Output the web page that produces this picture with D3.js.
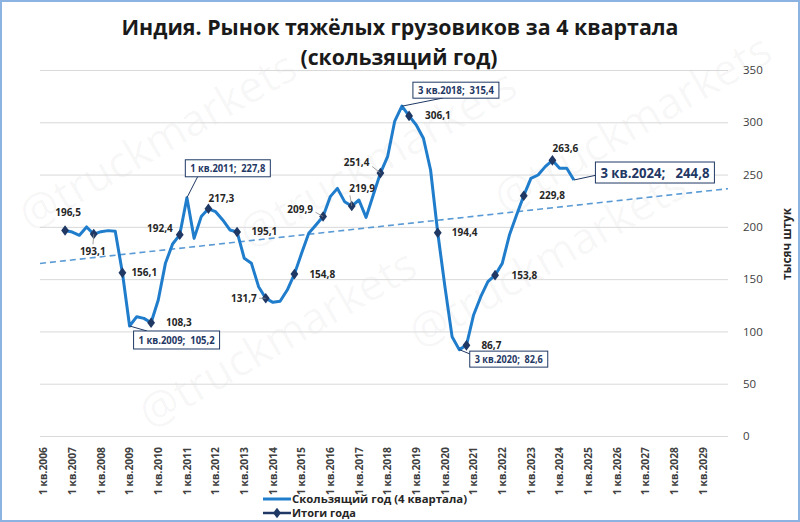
<!DOCTYPE html>
<html><head><meta charset="utf-8">
<script src="https://cdn.jsdelivr.net/npm/d3@7/dist/d3.min.js"></script>
<style>body{margin:0;background:#fff}svg{display:block}</style>
</head><body>
<svg id="c" width="800" height="522"></svg>
<script>
// ---------------- DATA ----------------
const titleLines = ["Индия. Рынок тяжёлых грузовиков за 4 квартала", "(скользящий год)"];
const years = [2006,2007,2008,2009,2010,2011,2012,2013,2014,2015,2016,2017,2018,2019,2020,2021,2022,2023,2024,2025,2026,2027,2028,2029];
const quarterNames = ["1 кв.","2 кв.","3 кв.","4 кв."];
const rollingStart = "4 кв.2006";
const rollingValues = [
  196.5,195.0,191.9,199.9,193.1,195.4,196.4,195.7,156.1,105.2,114.1,112.5,108.3,130.0,165.1,183.6,
  192.4,227.8,189.0,209.8,217.3,214.5,206.6,197.0,195.1,169.9,165.1,142.8,131.7,127.8,128.8,139.6,
  154.8,174.7,193.8,201.8,209.9,228.9,236.8,224.1,219.9,225.7,209.1,230.5,251.4,267.1,301.2,315.4,
  306.1,297.4,284.7,254.4,194.4,142.8,95.0,82.6,86.7,115.7,133.2,147.6,153.8,165.1,192.2,211.3,
  229.8,246.4,249.6,257.6,263.6,256.0,256.0,244.8
];
const annualYears = [2006,2007,2008,2009,2010,2011,2012,2013,2014,2015,2016,2017,2018,2019,2020,2021,2022,2023];
const annualValues = [196.5,193.1,156.1,108.3,192.4,217.3,195.1,131.7,154.8,209.9,219.9,251.4,306.1,194.4,86.7,153.8,229.8,263.6];
const trendValues = [165.0, 236.5]; // linear trend at left and right edge of the plot
const calloutCategories = ["1 кв.2009","1 кв.2011","3 кв.2018","3 кв.2020","3 кв.2024"];
const calloutValues = [105.2,227.8,315.4,82.6,244.8];
const yTicks = [0,50,100,150,200,250,300,350];
const yAxisTitle = "тысяч штук";
const legendLabels = ["Скользящий год (4 квартала)","Итоги года"];
const watermarkText = "@truckmarkets";

// ---------------- LAYOUT ----------------
const svg = d3.select("#c");
const FONT = "'Open Sans', 'DejaVu Sans', sans-serif";
const fmt = v => d3.format(".1f")(v).replace(".", ",");
const categories = years.flatMap(y => quarterNames.map(q => q + y));
const x = d3.scaleBand().domain(categories).range([40, 728]).padding(0);
const cx = c => x(c) + x.bandwidth() / 2;
const y = d3.scaleLinear().domain([0, 350]).range([436, 70]);

const startIdx = categories.indexOf(rollingStart);
const rolling = rollingValues.map((v, i) => ({cat: categories[startIdx + i], v}));
const annual = annualYears.map((yr, i) => ({cat: "4 кв." + yr, v: annualValues[i], yr}));

svg.append("rect").attr("width", 800).attr("height", 522).attr("fill", "#fff");

// watermarks (kept inside the frame)
const wm = [[30,232],[250,250],[150,430],[420,350],[505,215]];
svg.append("g").selectAll("text").data(wm).join("text")
  .attr("transform", d => `translate(${d[0]},${d[1]}) rotate(-30)`)
  .attr("font-family", FONT).attr("font-size", 44)
  .attr("fill", "#000").attr("fill-opacity", 0.04)
  .text(watermarkText);

// gridlines
svg.append("g").attr("transform", "translate(40,0)")
  .call(d3.axisRight(y).tickValues(yTicks).tickSize(688).tickFormat(""))
  .call(g => g.select(".domain").remove())
  .call(g => g.selectAll("line").attr("stroke", "#d9d9d9").attr("stroke-width", 1));

// y labels (right)
svg.append("g").attr("transform", "translate(743,0)")
  .call(d3.axisRight(y).tickValues(yTicks).tickSize(0).tickPadding(0))
  .call(g => g.select(".domain").remove())
  .call(g => g.selectAll("text").attr("font-family", FONT).attr("font-size", 11.5)
        .attr("fill", "#404040").attr("text-anchor", "start"));

svg.append("text")
  .attr("transform", "translate(791,244) rotate(-90)")
  .attr("text-anchor", "middle").attr("font-family", FONT).attr("font-weight", 700)
  .attr("font-size", 11.5).attr("fill", "#262626")
  .attr("textLength", 72).attr("lengthAdjust", "spacingAndGlyphs")
  .text(yAxisTitle);

// x labels
svg.append("g").attr("transform", "translate(0,436)")
  .call(d3.axisBottom(x).tickValues(categories.filter(c => c.startsWith("1 кв."))).tickSize(0))
  .call(g => g.select(".domain").remove())
  .call(g => g.selectAll("text")
    .attr("transform", "rotate(-90)").attr("x", -11).attr("y", 0).attr("dy", "0.35em")
    .attr("text-anchor", "end").attr("font-family", FONT).attr("font-weight", 700)
    .attr("font-size", 10.5).attr("fill", "#404040")
    .attr("textLength", 48).attr("lengthAdjust", "spacingAndGlyphs"));

// trend line
svg.append("line")
  .attr("x1", x.range()[0]).attr("x2", x.range()[1])
  .attr("y1", y(trendValues[0])).attr("y2", y(trendValues[1]))
  .attr("stroke", "#5b9bd5").attr("stroke-width", 1.6).attr("stroke-dasharray", "6,4");

// rolling line
svg.append("path").datum(rolling)
  .attr("d", d3.line().x(d => cx(d.cat)).y(d => y(d.v)))
  .attr("fill", "none").attr("stroke", "#1f7dcc").attr("stroke-width", 3)
  .attr("stroke-linejoin", "round");

// annual markers
const diamond = d3.symbol().type(d3.symbolDiamond).size(40);
svg.append("g").selectAll("path").data(annual).join("path")
  .attr("d", diamond)
  .attr("transform", d => `translate(${cx(d.cat)},${y(d.v)}) scale(1.15,0.9)`)
  .attr("fill", "#1f3864");

// annual labels: [dx, dy, anchor, leader]
const labelPos = {
  2006:[3,-18,"middle",0], 2007:[-1,17,"middle",1], 2008:[9,0,"start",0], 2009:[15,0,"start",0],
  2010:[-7,-6,"end",0], 2011:[13,-10,"middle",0], 2012:[14.5,0,"start",0], 2013:[-9,0,"end",1],
  2014:[15,0,"start",0], 2015:[-10,-7,"end",1], 2016:[-2.5,-18,"start",1], 2017:[-11,-11,"end",1],
  2018:[16,0,"start",0], 2019:[14,0,"start",0], 2020:[15,0,"start",0], 2021:[16.5,0,"start",0],
  2022:[15.5,0,"start",0], 2023:[13,-12,"middle",0]
};
const lg = svg.append("g");
annual.forEach(d => {
  const p = labelPos[d.yr], px = cx(d.cat), py = y(d.v);
  if (p[3]) {
    lg.append("line").attr("x1", px).attr("y1", py)
      .attr("x2", px + p[0] * 0.75).attr("y2", py + p[1] * 0.6)
      .attr("stroke", "#8c8c8c").attr("stroke-width", 0.8);
  }
  lg.append("text").attr("x", px + p[0]).attr("y", py + p[1]).attr("dy", "0.35em")
    .attr("text-anchor", p[2]).attr("font-family", FONT).attr("font-weight", 700)
    .attr("font-size", 10).attr("fill", "#262626").text(fmt(d.v));
});

// callouts: [dx, dy, w, h, leaderX, leaderY, fontSize]
const calloutLayout = [
  [4, 5, 86, 18, 147, 331, 10.5],
  [-1.6, -38, 85, 17, 198, 176, 10.5],
  [11, -24, 86, 16, 443, 98, 10],
  [10.5, 1.5, 78, 16, 470, 354, 10],
  [21.5, -18, 119, 21, 597, 175, 14.5]
];
calloutCategories.forEach((c, i) => {
  const L = calloutLayout[i], px = cx(c), py = y(calloutValues[i]);
  const g = svg.append("g");
  g.append("line").attr("x1", px).attr("y1", py).attr("x2", L[4]).attr("y2", L[5])
    .attr("stroke", "#1f3864").attr("stroke-width", 1);
  g.append("rect").attr("x", px + L[0]).attr("y", py + L[1]).attr("width", L[2]).attr("height", L[3])
    .attr("fill", "#fff").attr("stroke", "#1f3864").attr("stroke-width", 1);
  g.append("text").attr("x", px + L[0] + L[2] / 2).attr("y", py + L[1] + L[3] / 2).attr("dy", "0.36em")
    .attr("text-anchor", "middle").attr("font-family", FONT).attr("font-weight", 700)
    .attr("font-size", L[6]).attr("fill", "#1f3864").style("white-space", "pre")
    .attr("textLength", L[2] - 10).attr("lengthAdjust", "spacingAndGlyphs")
    .text(c + (i === 4 ? ";   " : ";  ") + fmt(calloutValues[i]));
});

// title
svg.append("text").attr("x", 400).attr("y", 35).attr("text-anchor", "middle")
  .attr("font-family", FONT).attr("font-weight", 700).attr("font-size", 21).attr("fill", "#1a1a1a")
  .attr("textLength", 557).attr("lengthAdjust", "spacingAndGlyphs").text(titleLines[0]);
svg.append("text").attr("x", 399).attr("y", 65).attr("text-anchor", "middle")
  .attr("font-family", FONT).attr("font-weight", 700).attr("font-size", 21).attr("fill", "#1a1a1a")
  .attr("textLength", 197).attr("lengthAdjust", "spacingAndGlyphs").text(titleLines[1]);

// legend
const leg = svg.append("g");
leg.append("line").attr("x1", 263).attr("x2", 291).attr("y1", 499).attr("y2", 499)
  .attr("stroke", "#1f7dcc").attr("stroke-width", 3);
leg.append("line").attr("x1", 263).attr("x2", 291).attr("y1", 513).attr("y2", 513)
  .attr("stroke", "#1f3864").attr("stroke-width", 2.5);
leg.append("path").attr("d", diamond).attr("transform", "translate(277,513) scale(1.15,0.9)").attr("fill", "#1f3864");
legendLabels.forEach((t, i) => {
  leg.append("text").attr("x", 292).attr("y", 499 + i * 14).attr("dy", "0.35em")
    .attr("font-family", FONT).attr("font-weight", 700).attr("font-size", 11).attr("fill", "#262626")
    .attr("textLength", i === 0 ? 175 : 64).attr("lengthAdjust", "spacingAndGlyphs").text(t);
});

// border
svg.append("rect").attr("x", 1).attr("y", 1).attr("width", 798).attr("height", 520)
  .attr("fill", "none").attr("stroke", "#8db3e2").attr("stroke-width", 2);
</script>
</body></html>
